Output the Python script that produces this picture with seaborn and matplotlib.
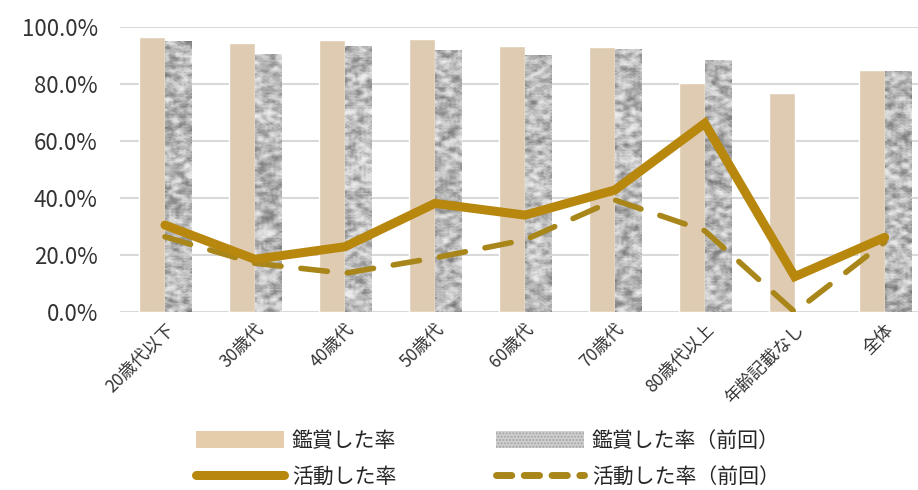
import numpy as np
import pandas as pd
import matplotlib
matplotlib.use('Agg')
import matplotlib.pyplot as plt
import seaborn as sns
from matplotlib.patches import Patch
from matplotlib.lines import Line2D

# データ
categories = ['20歳代以下', '30歳代', '40歳代', '50歳代', '60歳代', '70歳代', '80歳代以上', '年齢記載なし', '全体']
kansho = [96.6, 94.4, 95.3, 95.8, 93.5, 93.0, 80.2, 76.7, 84.9]
kansho_prev = [94.9, 90.4, 93.1, 91.7, 90.0, 92.0, 88.1, np.nan, 84.5]
katsudo = [30.5, 18.5, 22.9, 38.1, 34.0, 42.8, 66.2, 12.4, 26.2]
katsudo_prev = [26.4, 17.1, 13.6, 19.0, 25.3, 39.3, 28.5, 0.0, 24.5]
series_names = ['鑑賞した率', '鑑賞した率（前回）', '活動した率', '活動した率（前回）']

sns.set_style('white')
plt.rcParams['font.family'] = ['Noto Sans CJK JP', 'DejaVu Sans']

df = pd.DataFrame({
    'cat': categories * 2,
    'val': kansho + kansho_prev,
    'series': [series_names[0]] * len(categories) + [series_names[1]] * len(categories),
})

beige = '#E5CCAA'
gold = '#B8870E'
gold_dash = '#A9861A'

fig = plt.figure(figsize=(9.18, 4.9), dpi=100)
ax = fig.add_axes([120 / 918, 1 - 312 / 490, 798 / 918, 285 / 490])

sns.barplot(data=df, x='cat', y='val', hue='series', hue_order=series_names[:2],
            palette=[beige, '#C8C8C8'], width=0.58, gap=0, errorbar=None,
            legend=False, ax=ax, zorder=2)

# 前回の棒にノイズ模様を貼る
rng = np.random.default_rng(7)


def texture(rows, cols):
    n = rng.random((rows, cols))
    sm = n.copy()
    for dy in (-1, 1):
        for dx in (-1, 1):
            sm += np.roll(np.roll(n, dy, 0), dx, 1)
    sm = (sm - sm.min()) / (sm.max() - sm.min())
    return np.tanh((sm - 0.45) * 4)


for bar in ax.containers[1]:
    h = bar.get_height()
    if not np.isfinite(h) or h <= 0:
        continue
    x0 = bar.get_x()
    ax.imshow(texture(int(h * 2.2) + 4, 13), cmap='gray', vmin=-2.4, vmax=1.1, aspect='auto',
              extent=(x0, x0 + bar.get_width(), 0, h), zorder=2.5, interpolation='bicubic')
    bar.set_visible(False)

x = np.arange(len(categories))
sns.lineplot(x=x, y=katsudo_prev, color=gold_dash, lw=4, dashes=(4.8, 3.6),
             ax=ax, zorder=3, solid_capstyle='round', dash_capstyle='round')
sns.lineplot(x=x, y=katsudo, color=gold, lw=6.5, ax=ax, zorder=4,
             solid_capstyle='round', solid_joinstyle='miter')

ax.set_xlim(-0.5, 8.37)
ax.set_ylim(0, 100)
ax.set_yticks(np.arange(0, 101, 20))
ax.set_yticklabels([f'{v:.1f}%' for v in np.arange(0, 101, 20)], fontsize=16, color='#333333')
ax.set_xticks(x)
ax.set_xticklabels(categories, rotation=45, ha='right', va='top', rotation_mode='anchor',
                   fontsize=12.5, color='#333333')
ax.tick_params(axis='y', length=0, pad=16)
ax.tick_params(axis='x', length=0, pad=6)
ax.set_xlabel('')
ax.set_ylabel('')
ax.grid(axis='y', color='#D9D9D9', lw=1.5, zorder=0)
ax.set_axisbelow(True)
for s in ax.spines.values():
    s.set_visible(False)

handles = [
    Patch(facecolor=beige, edgecolor='none'),
    Line2D([0], [0], color=gold, lw=6.5, solid_capstyle='round'),
    Patch(facecolor='#CFCFCF', edgecolor='#A5A5A5', hatch='.....', lw=0),
    Line2D([0], [0], color=gold_dash, lw=5, dashes=(2.2, 1.8), dash_capstyle='round'),
]
labels = [series_names[0], series_names[2], series_names[1], series_names[3]]
fig.legend(handles, labels, loc='center', bbox_to_anchor=(488 / 918, 1 - 459 / 490),
           ncol=2, frameon=False, fontsize=15, handlelength=4.2, handletextpad=0.4,
           columnspacing=4.8, labelspacing=0.7, handleheight=0.9)

fig.savefig('out.png', dpi=100)
